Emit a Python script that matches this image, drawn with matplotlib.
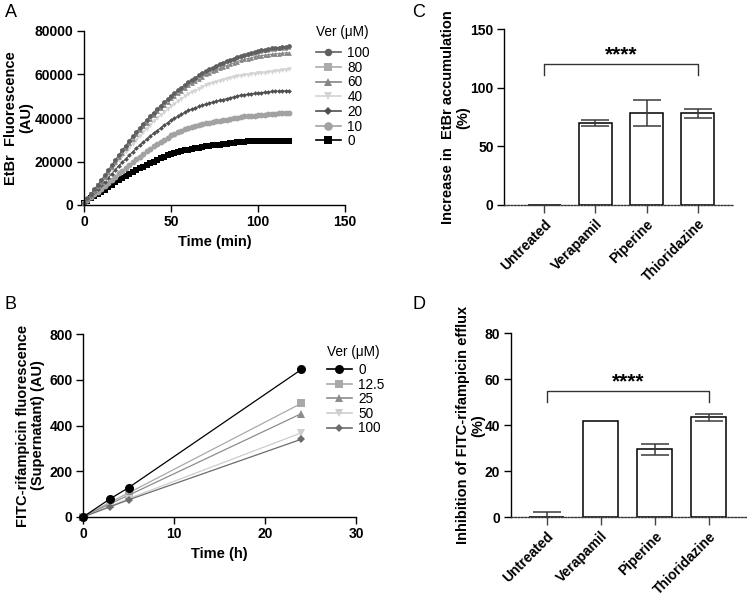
import numpy as np
import matplotlib
matplotlib.use("Agg")
import matplotlib.pyplot as plt
from matplotlib.lines import Line2D

plt.rcParams["font.family"] = ["Liberation Sans", "DejaVu Sans"]
plt.rcParams["axes.linewidth"] = 1.0

# ---------------- data ----------------
# panel A: EtBr accumulation, values in thousands of AU, every 2 min
time_a = np.arange(0, 120, 2)
ver_a_labels = ["100", "80", "60", "40", "20", "10", "0"]
etbr_100 = [1.0, 3.0, 5.2, 7.3, 9.4, 11.5, 13.8, 16.1, 18.4, 20.7, 23.0, 25.2, 27.3, 29.4, 31.5,
            33.5, 35.4, 37.3, 39.1, 40.8, 42.5, 44.1, 45.7, 47.2, 48.6, 50.0, 51.4, 52.7, 54.0, 55.3,
            56.5, 57.6, 58.6, 59.6, 60.6, 61.5, 62.4, 63.2, 64.0, 64.8, 65.5, 66.1, 66.7, 67.3, 67.9,
            68.5, 69.0, 69.5, 69.9, 70.4, 70.8, 71.1, 71.4, 71.7, 72.0, 72.2, 72.4, 72.6, 72.8, 73.0]
etbr_80 = [1.0, 2.9, 4.9, 7.0, 9.0, 11.0, 13.3, 15.6, 17.9, 20.2, 22.5, 24.6, 26.7, 28.8, 30.9,
           33.0, 34.8, 36.6, 38.4, 40.2, 42.0, 43.5, 45.0, 46.5, 48.0, 49.5, 50.8, 52.1, 53.4, 54.7,
           56.0, 57.0, 58.0, 59.0, 60.0, 61.0, 61.8, 62.6, 63.4, 64.2, 65.0, 65.6, 66.2, 66.8, 67.4,
           68.0, 68.4, 68.8, 69.2, 69.6, 70.0, 70.3, 70.6, 70.8, 71.1, 71.3, 71.5, 71.7, 71.8, 72.0]
etbr_60 = [1.0, 2.8, 4.7, 6.6, 8.6, 10.5, 12.8, 15.1, 17.4, 19.7, 22.0, 24.1, 26.2, 28.3, 30.4,
           32.5, 34.3, 36.1, 37.9, 39.7, 41.5, 43.0, 44.5, 46.0, 47.5, 49.0, 50.2, 51.4, 52.6, 53.8,
           55.0, 56.0, 57.0, 58.0, 59.0, 60.0, 60.7, 61.4, 62.1, 62.8, 63.5, 64.1, 64.7, 65.3, 65.9,
           66.5, 66.9, 67.3, 67.7, 68.1, 68.5, 68.7, 68.9, 69.1, 69.3, 69.5, 69.6, 69.8, 69.9, 70.0]
etbr_40 = [1.0, 2.8, 4.6, 6.4, 8.2, 10.0, 12.1, 14.2, 16.3, 18.4, 20.5, 22.4, 24.3, 26.2, 28.1,
           30.0, 31.7, 33.4, 35.1, 36.8, 38.5, 39.9, 41.3, 42.7, 44.1, 45.5, 46.6, 47.7, 48.8, 49.9,
           51.0, 51.8, 52.6, 53.4, 54.2, 55.0, 55.5, 56.0, 56.5, 57.0, 57.5, 57.9, 58.3, 58.7, 59.1,
           59.5, 59.7, 59.9, 60.1, 60.3, 60.5, 60.7, 60.9, 61.1, 61.3, 61.5, 61.7, 61.9, 62.1, 62.3]
etbr_20 = [1.0, 2.6, 4.2, 5.8, 7.4, 9.0, 10.8, 12.6, 14.4, 16.2, 18.0, 19.6, 21.2, 22.8, 24.4,
           26.0, 27.4, 28.8, 30.2, 31.6, 33.0, 34.2, 35.4, 36.6, 37.8, 39.0, 39.9, 40.8, 41.7, 42.6,
           43.5, 44.1, 44.7, 45.3, 45.9, 46.5, 46.9, 47.3, 47.7, 48.1, 48.5, 48.9, 49.3, 49.7, 50.1,
           50.5, 50.7, 50.9, 51.1, 51.3, 51.5, 51.7, 51.8, 52.0, 52.2, 52.3, 52.4, 52.5, 52.5, 52.6]
etbr_10 = [1.0, 2.3, 3.6, 4.9, 6.2, 7.5, 8.9, 10.3, 11.7, 13.1, 14.5, 15.8, 17.1, 18.4, 19.7,
           21.0, 22.2, 23.4, 24.6, 25.8, 27.0, 28.0, 29.0, 30.0, 31.0, 32.0, 32.7, 33.4, 34.1, 34.8,
           35.5, 35.9, 36.3, 36.7, 37.1, 37.5, 37.8, 38.1, 38.4, 38.7, 39.0, 39.3, 39.6, 39.9, 40.2,
           40.5, 40.7, 40.8, 41.0, 41.1, 41.3, 41.4, 41.6, 41.7, 41.9, 42.0, 42.1, 42.3, 42.4, 42.5]
etbr_0 = [1.0, 2.0, 3.0, 4.0, 5.0, 6.0, 7.1, 8.2, 9.3, 10.4, 11.5, 12.4, 13.3, 14.2, 15.1,
          16.0, 16.8, 17.6, 18.4, 19.2, 20.0, 20.7, 21.4, 22.1, 22.8, 23.5, 23.9, 24.3, 24.7, 25.1,
          25.5, 25.8, 26.1, 26.4, 26.7, 27.0, 27.2, 27.4, 27.6, 27.8, 28.0, 28.2, 28.4, 28.6, 28.8,
          29.0, 29.1, 29.2, 29.3, 29.4, 29.5, 29.5, 29.5, 29.5, 29.5, 29.5, 29.5, 29.6, 29.6, 29.6]

# panel B: FITC-rifampicin in supernatant
time_b = [0, 3, 5, 24]
ver_b_labels = ["0", "12.5", "25", "50", "100"]
fitc_0 = [0, 80, 128, 645]
fitc_12 = [0, 65, 105, 497]
fitc_25 = [0, 58, 95, 452]
fitc_50 = [0, 48, 80, 368]
fitc_100 = [0, 45, 75, 340]

# panels C and D
treatments = ["Untreated", "Verapamil", "Piperine", "Thioridazine"]
etbr_increase = [0, 69.8, 78.4, 78.4]
etbr_increase_err = [0, 2.5, 11.3, 3.7]
fitc_inhibition = [0, 41.9, 29.6, 43.5]
fitc_inhibition_err = [2.2, 0.1, 2.3, 1.6]

# ---------------- figure ----------------
W, H = 747, 597
fig = plt.figure(figsize=(W / 100, H / 100), dpi=100)


def px_axes(left, top, right, bottom):
    return fig.add_axes([left / W, 1 - bottom / H, (right - left) / W, (bottom - top) / H])


def style_axes(ax):
    ax.spines["top"].set_visible(False)
    ax.spines["right"].set_visible(False)
    ax.tick_params(direction="out", length=5, width=1, labelsize=10, pad=2.5)
    for lab in ax.get_xticklabels() + ax.get_yticklabels():
        lab.set_fontweight("bold")


def add_legend(handles, title, x_px, title_y_px, first_row_y_px, row_gap_px):
    fig.text(x_px / W, 1 - title_y_px / H, title, fontsize=9.8, va="center", ha="left")
    leg = fig.legend(handles=handles, loc="upper left",
                     bbox_to_anchor=(x_px / W, 1 - (first_row_y_px - 7) / H),
                     frameon=False, fontsize=9.8, handlelength=1.8, handletextpad=0.5,
                     labelspacing=(row_gap_px - 13.6) / 13.6, borderpad=0, borderaxespad=0)
    return leg


LABEL_KW = dict(fontsize=10.5, fontweight="bold", linespacing=1.1)

# ---- A ----
axA = px_axes(84, 31, 345, 205)
series_a = [etbr_100, etbr_80, etbr_60, etbr_40, etbr_20, etbr_10, etbr_0]
colors_a = ["#5f5f5f", "#ababab", "#858585", "#d4d4d4", "#4f4f4f", "#a2a2a2", "#000000"]
markers_a = ["o", "s", "^", "v", "D", "o", "s"]
msizes_a = [3.4, 3.2, 3.4, 3.4, 2.4, 4.2, 4.4]
handles_a = []
for vals, col, mk, ms, lab in reversed(list(zip(series_a, colors_a, markers_a, msizes_a, ver_a_labels))):
    axA.plot(time_a, np.array(vals) * 1000, color=col, marker=mk, markersize=ms,
             linewidth=0.8, markeredgewidth=0, clip_on=False)
for col, mk, ms, lab in zip(colors_a, markers_a, msizes_a, ver_a_labels):
    handles_a.append(Line2D([], [], color=col, marker=mk, markersize=ms + 2,
                            markeredgewidth=0, linewidth=1.2, label=lab))
axA.set_xlim(0, 150)
axA.set_ylim(0, 80000)
axA.set_xticks([0, 50, 100, 150])
axA.set_yticks([0, 20000, 40000, 60000, 80000])
axA.set_xlabel("Time (min)", labelpad=4, **LABEL_KW)
axA.set_ylabel("EtBr  Fluorescence\n(AU)", labelpad=1, **LABEL_KW)
style_axes(axA)
add_legend(handles_a, "Ver (\u03bcM)", 316, 32, 53, 14.3)

# ---- B ----
axB = px_axes(83, 334, 356, 517)
series_b = [fitc_0, fitc_12, fitc_25, fitc_50, fitc_100]
colors_b = ["#000000", "#a9a9a9", "#8c8c8c", "#cdcdcd", "#6c6c6c"]
markers_b = ["o", "s", "^", "v", "D"]
msizes_b = [6.5, 6, 6, 6, 4.5]
handles_b = []
for vals, col, mk, ms, lab in zip(series_b, colors_b, markers_b, msizes_b, ver_b_labels):
    axB.plot(time_b, vals, color=col, marker=mk, markersize=ms, linewidth=0.9,
             markeredgewidth=0, clip_on=False, zorder=3 if lab == "0" else 2)
    handles_b.append(Line2D([], [], color=col, marker=mk, markersize=ms,
                            markeredgewidth=0, linewidth=1.2, label=lab))
axB.set_xlim(0, 30)
axB.set_ylim(0, 800)
axB.set_xticks([0, 10, 20, 30])
axB.set_yticks([0, 200, 400, 600, 800])
axB.set_xlabel("Time (h)", labelpad=4, **LABEL_KW)
axB.set_ylabel("FITC-rifampicin fluorescence\n(Supernatant) (AU)", labelpad=3, **LABEL_KW)
style_axes(axB)
add_legend(handles_b, "Ver (\u03bcM)", 327, 352, 370, 14.2)


# ---- C and D ----
def bar_panel(ax, vals, errs, ymax, yticks, ylabel, bracket_y, drop, star_y):
    x = np.arange(len(treatments))
    ax.bar(x, vals, width=0.65, color="white", edgecolor="black", linewidth=1.1, zorder=2)
    ax.errorbar(x, vals, yerr=errs, fmt="none", ecolor="#3a3a3a", elinewidth=1.1,
                capsize=10, capthick=1.1, zorder=3)
    ax.set_ylim(0, ymax)
    ax.set_yticks(yticks)
    ax.set_xticks(x)
    ax.set_xticklabels(treatments, rotation=45, ha="right", rotation_mode="anchor")
    ax.set_ylabel(ylabel, labelpad=0, **LABEL_KW)
    style_axes(ax)
    ax.tick_params(axis="x", length=6, color="#444444", pad=2.5, labelsize=10)
    ax.spines["bottom"].set_linestyle((0, (1.2, 1.2)))
    ax.spines["bottom"].set_color("#333333")
    ax.plot([x[0], x[0], x[-1], x[-1]], [bracket_y - drop, bracket_y, bracket_y, bracket_y - drop],
            color="#333333", linewidth=1.0)
    ax.text((x[0] + x[-1]) / 2, star_y, "****", ha="center", va="center", fontsize=15,
            fontweight="bold")


axC = px_axes(504, 29.3, 733, 205)
axC.set_xlim(-0.79, 3.69)
bar_panel(axC, etbr_increase, etbr_increase_err, 150, [0, 50, 100, 150],
          "Increase in  EtBr accumulation\n(%)", 120, 9, 128.5)

axD = px_axes(510.7, 333.3, 747, 517.3)
axD.set_xlim(-0.67, 3.71)
bar_panel(axD, fitc_inhibition, fitc_inhibition_err, 80, [0, 20, 40, 60, 80],
          "Inhibition of FITC-rifampicin efflux\n(%)", 55, 5, 58.8)

# panel letters
for letter, xp, yp in [("A", 5, 4), ("B", 5, 296), ("C", 412, 4), ("D", 412, 296)]:
    fig.text(xp / W, 1 - yp / H, letter, fontsize=13, va="top", ha="left")

fig.savefig("out.png", dpi=100)
